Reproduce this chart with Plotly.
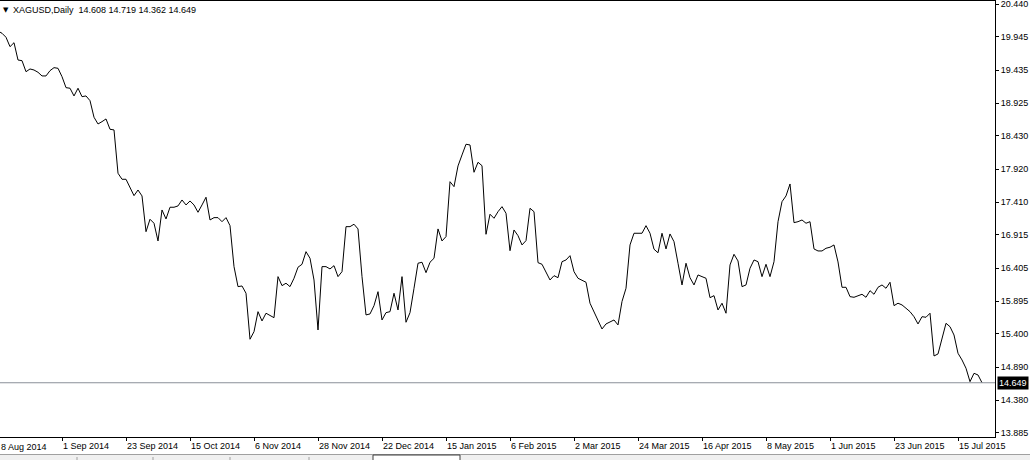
import plotly.graph_objects as go

# ---- data -------------------------------------------------------------
symbol_title = "XAGUSD,Daily"
ohlc_last = ["14.608", "14.719", "14.362", "14.649"]

close = [
    20.032, 19.997, 19.936, 19.792, 19.853, 19.588, 19.578, 19.409, 19.451, 19.435,
    19.400, 19.344, 19.344, 19.425, 19.471, 19.461, 19.333, 19.165, 19.156, 19.038,
    19.156, 19.027, 19.038, 18.966, 18.712, 18.609, 18.645, 18.686, 18.528, 18.518,
    17.855, 17.763, 17.763, 17.635, 17.512, 17.599, 17.508, 16.961, 17.151, 17.090,
    16.819, 17.293, 17.156, 17.335, 17.335, 17.355, 17.446, 17.370, 17.431, 17.370,
    17.258, 17.370, 17.488, 17.140, 17.176, 17.176, 17.114, 17.176, 17.053, 16.426,
    16.120, 16.130, 16.019, 15.315, 15.431, 15.737, 15.595, 15.713, 15.676, 15.645,
    16.273, 16.135, 16.172, 16.120, 16.248, 16.417, 16.462, 16.655, 16.554, 16.222,
    15.457, 16.426, 16.426, 16.391, 16.441, 16.273, 16.349, 17.038, 17.038, 17.075,
    17.003, 16.273, 15.687, 15.702, 15.829, 16.043, 15.610, 15.722, 15.737, 16.019,
    15.763, 16.273, 15.575, 15.722, 16.095, 16.478, 16.493, 16.334, 16.493, 16.554,
    17.003, 16.819, 16.885, 17.726, 17.650, 17.967, 18.135, 18.299, 18.288, 17.870,
    18.023, 17.971, 16.921, 17.228, 17.166, 17.267, 17.344, 17.243, 16.670, 16.987,
    16.900, 16.758, 16.824, 17.319, 17.267, 16.487, 16.462, 16.349, 16.222, 16.288,
    16.257, 16.502, 16.528, 16.594, 16.349, 16.248, 16.211, 16.187, 15.866, 15.737,
    15.610, 15.472, 15.549, 15.584, 15.610, 15.534, 15.893, 16.095, 16.758, 16.937,
    16.937, 16.937, 17.053, 16.937, 16.693, 16.638, 16.937, 16.697, 16.926, 16.808,
    16.478, 16.146, 16.478, 16.257, 16.146, 16.299, 16.273, 16.248, 15.951, 15.982,
    15.763, 15.866, 15.713, 16.452, 16.615, 16.513, 16.120, 16.146, 16.401, 16.528,
    16.502, 16.273, 16.462, 16.273, 16.502, 17.114, 17.420, 17.508, 17.691, 17.099,
    17.114, 17.140, 17.090, 17.114, 16.697, 16.666, 16.666, 16.707, 16.723, 16.758,
    16.498, 16.110, 16.110, 15.967, 15.957, 15.982, 16.003, 15.957, 16.058, 16.003,
    16.110, 16.146, 16.095, 16.187, 15.829, 15.866, 15.840, 15.789, 15.737, 15.660,
    15.549, 15.660, 15.651, 15.713, 15.059, 15.090, 15.330, 15.559, 15.507, 15.380,
    15.100, 14.998, 14.871, 14.666, 14.794, 14.768, 14.649,
]

date_labels = ["8 Aug 2014", "1 Sep 2014", "23 Sep 2014", "15 Oct 2014", "6 Nov 2014",
               "28 Nov 2014", "22 Dec 2014", "15 Jan 2015", "6 Feb 2015", "2 Mar 2015",
               "24 Mar 2015", "16 Apr 2015", "8 May 2015", "1 Jun 2015", "23 Jun 2015",
               "15 Jul 2015"]
date_label_bar = [0, 16, 32, 48, 64, 80, 96, 112, 128, 144, 160, 176, 192, 208, 224, 240]

price_ticks = [20.440, 19.945, 19.435, 18.925, 18.430, 17.920, 17.410, 16.915,
               16.405, 15.895, 15.400, 14.890, 14.380, 13.885]
current_price = 14.649

# ---- figure -----------------------------------------------------------
FONT = "Liberation Sans"
x_range = [0.5, 249.25]
y_range = [13.819, 20.491]

fig = go.Figure()
fig.add_trace(go.Scatter(
    x=list(range(len(close))), y=close, mode="lines",
    line=dict(color="black", width=1), hoverinfo="skip", showlegend=False,
))

# current price line
fig.add_shape(type="line", xref="paper", x0=0, x1=1, yref="y",
              y0=current_price, y1=current_price,
              line=dict(color="#8a8f99", width=1))

fig.update_layout(
    width=1030, height=460,
    margin=dict(l=0, r=35, t=1, b=23),
    paper_bgcolor="white", plot_bgcolor="white",
    font=dict(family=FONT, size=9, color="black"),
    showlegend=False,
)
fig.update_xaxes(
    range=x_range, showgrid=False, zeroline=False,
    showline=True, linecolor="black", linewidth=1, mirror=True,
    tickmode="array", tickvals=date_label_bar[1:], ticktext=date_labels[1:],
    ticks="outside", ticklen=3, tickcolor="black",
    ticklabelposition="outside right", ticklabeloverflow="allow",
    tickfont=dict(family=FONT, size=9, color="black"),
)
fig.update_yaxes(
    range=y_range, side="right", showgrid=False, zeroline=False,
    showline=True, linecolor="black", linewidth=1,
    tickmode="array", tickvals=price_ticks,
    ticktext=[f"{v:.3f}" for v in price_ticks],
    ticks="outside", ticklen=3, tickcolor="black", ticklabeloverflow="allow",
    tickfont=dict(family=FONT, size=9, color="black"),
)

annotations = []
# first (partially cut) date label
first_paper_x = (date_label_bar[0] - x_range[0]) / (x_range[1] - x_range[0])
annotations.append(dict(
    xref="paper", yref="paper", x=first_paper_x, y=0, xanchor="left", yanchor="top",
    yshift=-3, xshift=1, text=date_labels[0], showarrow=False,
    font=dict(family=FONT, size=9, color="black"),
))
# header
annotations.append(dict(
    xref="paper", yref="paper", x=0, y=1, xanchor="left", yanchor="top",
    xshift=1, yshift=-3, text="▼", showarrow=False,
    font=dict(family="DejaVu Sans", size=7, color="black"),
))
annotations.append(dict(
    xref="paper", yref="paper", x=0, y=1, xanchor="left", yanchor="top",
    xshift=11, yshift=-2,
    text=symbol_title + "&nbsp;&nbsp;" + " ".join(ohlc_last), showarrow=False,
    font=dict(family=FONT, size=9, color="black"),
))
# current price box on the axis
annotations.append(dict(
    xref="paper", yref="y", x=1, y=current_price, xanchor="left", yanchor="middle",
    xshift=2, text=f"{current_price:.3f}", showarrow=False, bgcolor="black",
    borderpad=1, font=dict(family=FONT, size=9, color="white"),
))
fig.update_layout(annotations=annotations)

# bottom tab bar (terminal chrome)
def px_x(p):
    return p / 995.0

def px_y(p):
    return (437.0 - p) / 436.0

fig.add_shape(type="rect", xref="paper", yref="paper",
              x0=px_x(0), x1=px_x(1030), y0=px_y(454), y1=px_y(462),
              fillcolor="#f0f0f0", line=dict(width=0), layer="above")
fig.add_shape(type="line", xref="paper", yref="paper",
              x0=px_x(0), x1=px_x(1030), y0=px_y(454.5), y1=px_y(454.5),
              line=dict(color="#a0a0a0", width=1))
for sx in [77, 153, 230, 309]:
    fig.add_shape(type="line", xref="paper", yref="paper",
                  x0=px_x(sx), x1=px_x(sx), y0=px_y(457), y1=px_y(462),
                  line=dict(color="#a0a0a0", width=1))
fig.add_shape(type="rect", xref="paper", yref="paper",
              x0=px_x(373), x1=px_x(460), y0=px_y(455), y1=px_y(462),
              fillcolor="white", line=dict(color="#404040", width=1), layer="above")

fig.write_html(
    "out.html",
    config={"displayModeBar": False},
    post_script="document.body.style.margin='0px';document.body.style.overflow='hidden';",
)
